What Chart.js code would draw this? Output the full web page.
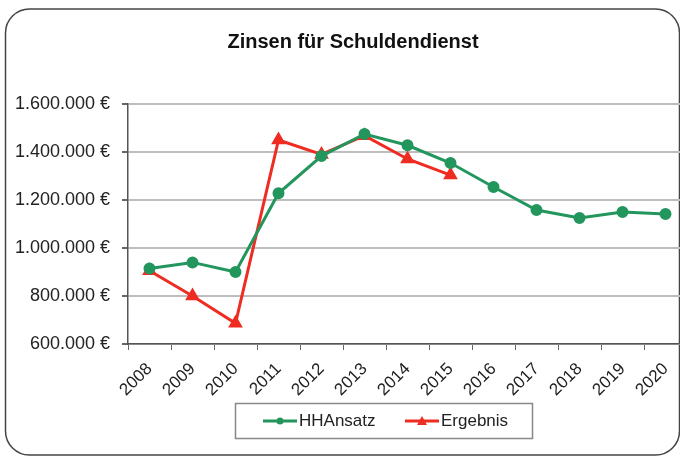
<!DOCTYPE html>
<html>
<head>
<style type="text/css">
body{
	margin: 0;
	overflow: hidden;
	background: #fff;
	font-family: "Liberation Sans", Arial;
}
#wrap{ width: 700px; height: 457px; }
</style>
<title>Zinsen für Schuldendienst</title>
<script type="text/javascript" src="https://cdn.jsdelivr.net/npm/chart.js@4/dist/chart.umd.min.js"></script>
</head>
<body>
<div id="wrap"><canvas id="myChart" width="700" height="457"></canvas></div>
<script type="text/javascript">
var years = ['2008', '2009', '2010', '2011', '2012', '2013', '2014', '2015', '2016', '2017', '2018', '2019', '2020'];
var hhAnsatz = [915000, 940000, 900000, 1228000, 1383000, 1475000, 1428000, 1354000, 1254000, 1158000, 1125000, 1150000, 1142000];
var ergebnis = [905000, 800000, 686000, 1450000, 1390000, 1468000, 1371000, 1304000];
var yTicks = [600000, 800000, 1000000, 1200000, 1400000, 1600000];
var chartTitle = 'Zinsen für Schuldendienst';

var green = 'rgb(34,150,92)';
var red = 'rgb(238,44,34)';

function euro(v) {
	return String(v).replace(/\B(?=(\d{3})+(?!\d))/g, '.') + ' €';
}

// rounded frame + title behind everything, legend box on top
var framePlugin = {
	id: 'frame',
	beforeDraw: function (chart) {
		var ctx = chart.ctx;
		ctx.save();
		ctx.fillStyle = '#fff';
		ctx.fillRect(0, 0, chart.width, chart.height);
		ctx.strokeStyle = '#444';
		ctx.lineWidth = 1.5;
		ctx.beginPath();
		ctx.roundRect(5.5, 9, 674, 446, 24);
		ctx.stroke();
		ctx.fillStyle = '#111';
		ctx.font = 'bold 20px "Liberation Sans", Arial';
		ctx.textAlign = 'center';
		ctx.textBaseline = 'middle';
		ctx.fillText(chartTitle, 353, 42);
		ctx.restore();
	},
	afterDraw: function (chart) {
		var ctx = chart.ctx;
		ctx.save();
		ctx.strokeStyle = '#888';
		ctx.lineWidth = 1.5;
		ctx.strokeRect(235.5, 403.5, 297, 35);
		ctx.font = '17px "Liberation Sans", Arial';
		ctx.textBaseline = 'middle';
		var xs = [263, 405];
		chart.data.datasets.forEach(function (ds, i) {
			var x = xs[i], y = 421;
			ctx.strokeStyle = ds.borderColor;
			ctx.lineWidth = 3;
			ctx.beginPath();
			ctx.moveTo(x, y);
			ctx.lineTo(x + 34, y);
			ctx.stroke();
			ctx.fillStyle = ds.borderColor;
			ctx.beginPath();
			if (ds.pointStyle === 'triangle') {
				ctx.moveTo(x + 17, y - 5);
				ctx.lineTo(x + 22, y + 4);
				ctx.lineTo(x + 12, y + 4);
				ctx.closePath();
			} else {
				ctx.arc(x + 17, y, 3.5, 0, Math.PI * 2);
			}
			ctx.fill();
			ctx.fillStyle = '#222';
			ctx.fillText(ds.label, x + 36, y);
		});
		ctx.restore();
	}
};

var chart = new Chart(document.getElementById('myChart').getContext('2d'), {
	type: 'line',
	data: {
		labels: years,
		datasets: [
			{
				label: 'HHAnsatz',
				data: hhAnsatz,
				borderColor: green,
				backgroundColor: green,
				borderWidth: 3,
				pointStyle: 'circle',
				pointRadius: 4.5,
				tension: 0
			},
			{
				label: 'Ergebnis',
				data: ergebnis,
				borderColor: red,
				backgroundColor: red,
				borderWidth: 3,
				pointStyle: 'triangle',
				pointRadius: 5.5,
				tension: 0
			}
		]
	},
	options: {
		responsive: false,
		animation: false,
		layout: { padding: { left: 5, right: 13, top: 104, bottom: 53 } },
		plugins: {
			legend: { display: false },
			tooltip: { enabled: false },
			title: { display: false }
		},
		scales: {
			x: {
				offset: true,
				grid: { offset: true, drawOnChartArea: false, drawTicks: true, tickLength: 6, tickColor: '#666' },
				border: { color: '#555', width: 1.5 },
				ticks: {
					color: '#222',
					font: { family: '"Liberation Sans", Arial', size: 17 },
					minRotation: 45,
					maxRotation: 45,
					autoSkip: false,
					padding: 9
				},
				afterFit: function (scale) { scale.height = 60; }
			},
			y: {
				min: 600000,
				max: 1600000,
				afterBuildTicks: function (scale) {
					scale.ticks = yTicks.map(function (v) { return { value: v }; });
				},
				grid: { color: '#bdbdbd', lineWidth: 2, tickLength: 6, tickColor: '#666' },
				border: { color: '#555', width: 1.5 },
				ticks: {
					color: '#222',
					font: { family: '"Liberation Sans", Arial', size: 18 },
					padding: 12,
					callback: function (v) { return euro(v); }
				},
				afterFit: function (scale) { scale.width = 123; }
			}
		}
	},
	plugins: [framePlugin]
});
</script>
</body>
</html>
